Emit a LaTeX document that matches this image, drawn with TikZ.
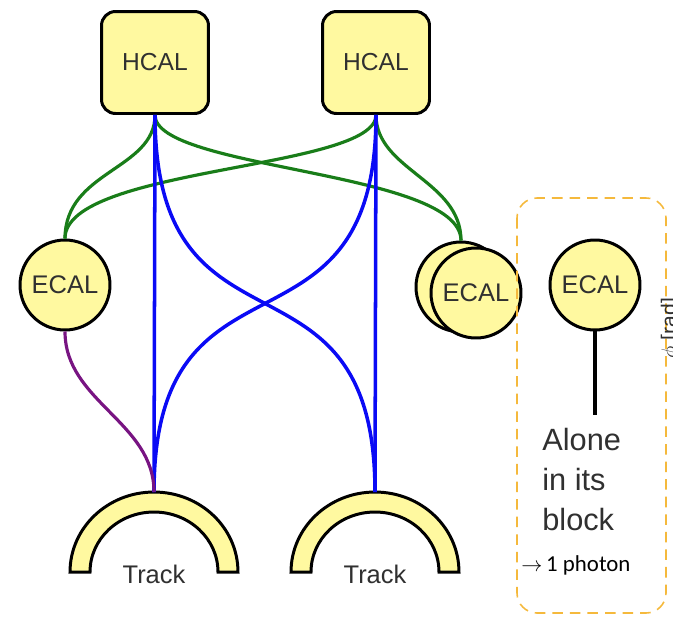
\documentclass[tikz,border=0pt]{standalone}
\usepackage{fontspec}
\setmainfont{Liberation Sans}
\newfontfamily\photonfont{Carlito}
\definecolor{calfill}{RGB}{255,249,160}
\definecolor{labelgray}{RGB}{48,48,48}
\definecolor{linkgreen}{RGB}{25,125,25}
\definecolor{linkblue}{RGB}{10,10,245}
\definecolor{linkpurple}{RGB}{120,20,130}
\definecolor{blockorange}{RGB}{245,185,60}
\tikzset{
  hcal/.style={draw=black,line width=1.7pt,fill=calfill,rounded corners=8pt,
    minimum width=2.14cm,minimum height=2.04cm,text=labelgray,
    font=\fontsize{14}{16}\selectfont},
  ecal/.style={circle,draw=black,line width=1.7pt,fill=calfill,inner sep=0pt,
    minimum size=1.8cm,text=labelgray,font=\fontsize{14.5}{16}\selectfont},
  arch/.style={draw=black,line width=1.7pt,fill=calfill},
  greenlink/.style={draw=linkgreen,line width=1.8pt},
  bluelink/.style={draw=linkblue,line width=2pt},
  purplelink/.style={draw=linkpurple,line width=1.8pt},
}
\begin{document}
\begin{tikzpicture}[x=0.02cm,y=-0.02cm]
    \useasboundingbox (0,0) rectangle (673,616);
    % calorimeter clusters
    \node[hcal] (hcalA) at (155,62.5) {HCAL};
    \node[hcal] (hcalB) at (376,62.5) {HCAL};
    \node[ecal] (ecalA) at (65,285) {ECAL};
    \node[ecal] (ecalBback) at (461,287) {};
    \node[ecal] (ecalB) at (476,293) {ECAL};
    \node[ecal] (ecalC) at (595,285) {ECAL};
    % tracks
    \coordinate (trackAbase) at (154,572);
    \coordinate (trackBbase) at (375,572);
    \coordinate (trackAtop) at (154,492);
    \coordinate (trackBtop) at (375,492);
    \foreach \t in {trackAbase,trackBbase}
      \draw[arch] ([xshift=-1.68cm]\t) arc[start angle=180,end angle=0,x radius=1.68cm,y radius=1.6cm]
        -- ++(-0.4cm,0) arc[start angle=0,end angle=180,x radius=1.28cm,y radius=1.2cm] -- cycle;
    \node[anchor=base,text=labelgray,font=\fontsize{14.5}{16}\selectfont] (trackA) at (154,583) {Track};
    \node[anchor=base,text=labelgray,font=\fontsize{14.5}{16}\selectfont] (trackB) at (375,583) {Track};
    % links
    \draw[greenlink] (hcalA.south) .. controls +(0,55) and +(0,-68) .. (ecalA.north);
    \draw[greenlink] (hcalA.south) .. controls +(0,55) and +(0,-70) .. (ecalBback.north);
    \draw[greenlink] (hcalB.south) .. controls +(0,55) and +(0,-72) .. (ecalA.north);
    \draw[greenlink] (hcalB.south) .. controls +(0,55) and +(0,-60) .. (ecalBback.north);
    \draw[bluelink] (hcalA.south) -- (trackAtop);
    \draw[bluelink] (hcalB.south) -- (trackBtop);
    \draw[bluelink] (hcalA.south) .. controls +(0,260) and +(0,-260) .. (trackBtop);
    \draw[bluelink] (hcalB.south) .. controls +(0,260) and +(0,-260) .. (trackAtop);
    \draw[purplelink] (ecalA.south) .. controls +(0,70) and +(0,-70) .. (trackAtop);
    % lone ECAL block
    \draw[blockorange,line width=0.9pt,dash pattern=on 6pt off 4pt,rounded corners=0.4cm]
      (517,198) rectangle (666,613);
    \coordinate (aloneend) at (595,415);
    \draw[line width=1.8pt] (ecalC.south) -- (aloneend);
    \node[anchor=north west,align=left,text=labelgray,inner sep=0pt,
      font=\fontsize{17.5}{22.7}\selectfont] (alone) at (542,428) {Alone\\in its\\block};
    \node[anchor=base west,inner sep=0pt,font=\photonfont\fontsize{13}{15}\selectfont]
      (photon) at (521,571) {$\rightarrow$\,1 photon};
    \begin{scope}
      \clip (0,0) rectangle (673,616);
      \node[rotate=90,anchor=base,text=labelgray,font=\fontsize{12}{14}\selectfont] (phiaxis) at (676,328) {$\phi$ [rad]};
    \end{scope}
\end{tikzpicture}
\end{document}
